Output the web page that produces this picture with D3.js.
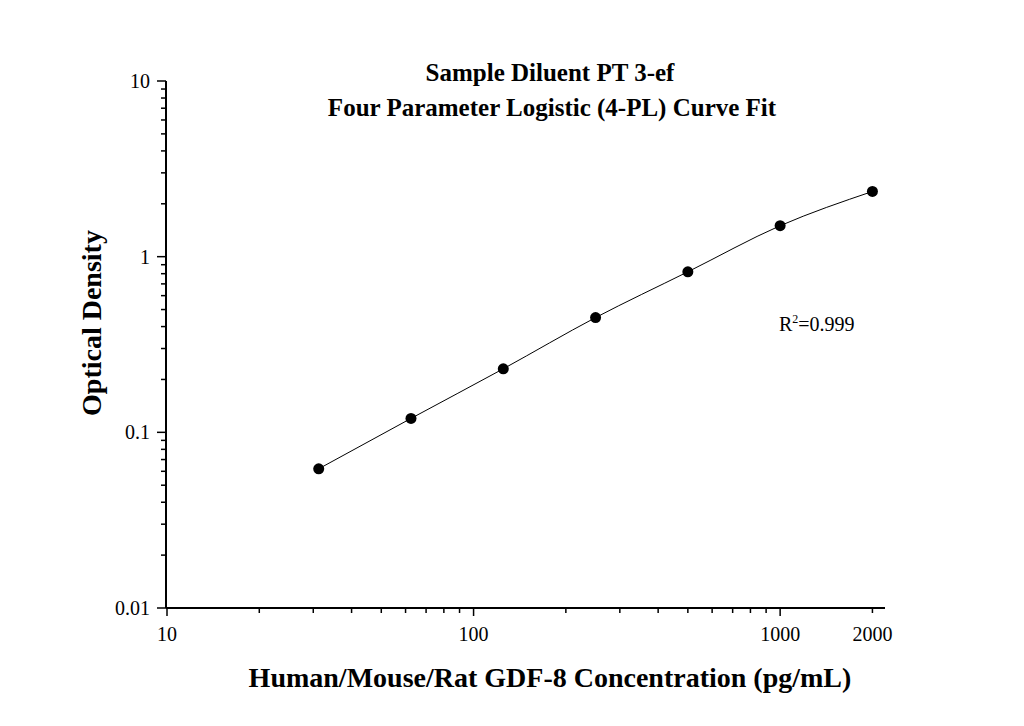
<!DOCTYPE html><html><head><meta charset="utf-8">
<script src="https://cdn.jsdelivr.net/npm/d3@7"></script>
<style>body{margin:0;background:#fff}text{font-family:"Liberation Serif","Times New Roman",serif}</style></head><body>
<svg width="1024" height="726"></svg>
<script>
const concentrations=[31.25,62.5,125,250,500,1000,2000];
const odValues=[0.062,0.12,0.23,0.45,0.82,1.5,2.35];
const xTickLabels=[10,100,1000,2000];
const yTickLabels=[0.01,0.1,1,10];
const svg=d3.select("svg");
const x=d3.scaleLog().domain([10,2198]).range([167,885]);
const y=d3.scaleLog().domain([0.01,10]).range([608,81]);
function minors(lo,hi){const r=[];for(let d=lo;d<hi;d*=10)for(let k=2;k<=9;k++)r.push(d*k);return r;}
const xm=minors(10,1000).concat([10,100,1000,2000]);
svg.append("line").attr("x1",166).attr("x2",885).attr("y1",608).attr("y2",608).attr("stroke","#000").attr("stroke-width",2);
svg.selectAll(".xt").data(xm.filter(v=>x(v)<=885)).join("line").attr("x1",d=>x(d)).attr("x2",d=>x(d)).attr("y1",608).attr("y2",d=>[10,100,1000].includes(d)?616:613).attr("stroke","#000").attr("stroke-width",1.5);
svg.selectAll(".xl").data(xTickLabels).join("text").attr("x",d=>x(d)).attr("y",641).attr("text-anchor","middle").attr("font-size",20).text(d=>d);
svg.append("line").attr("x1",166).attr("x2",166).attr("y1",81).attr("y2",608).attr("stroke","#000").attr("stroke-width",2);
svg.selectAll(".yt").data(minors(0.01,10).concat([0.01,0.1,1,10])).join("line").attr("x1",166).attr("x2",d=>yTickLabels.includes(d)?157:161).attr("y1",d=>y(d)).attr("y2",d=>y(d)).attr("stroke","#000").attr("stroke-width",1.5);
svg.selectAll(".yl").data(yTickLabels).join("text").attr("x",150).attr("y",d=>y(d)+7).attr("text-anchor","end").attr("font-size",20).text(d=>d);
svg.append("path").datum(concentrations).attr("fill","none").attr("stroke","#000").attr("stroke-width",1)
 .attr("d",d3.line().x(d=>x(d)).y((d,i)=>y(odValues[i])).curve(d3.curveMonotoneX));
svg.selectAll(".pt").data(concentrations).join("circle").attr("cx",d=>x(d)).attr("cy",(d,i)=>y(odValues[i])).attr("r",5.5).attr("fill","#000");
svg.append("text").attr("x",550).attr("y",81).attr("text-anchor","middle").attr("font-size",25).attr("font-weight","bold").text("Sample Diluent PT 3-ef");
svg.append("text").attr("x",552).attr("y",116).attr("text-anchor","middle").attr("font-size",25).attr("font-weight","bold").text("Four Parameter Logistic (4-PL) Curve Fit");
svg.append("text").attr("x",550).attr("y",687).attr("text-anchor","middle").attr("font-size",28).attr("font-weight","bold").text("Human/Mouse/Rat GDF-8 Concentration (pg/mL)");
svg.append("text").attr("transform","translate(101,323) rotate(-90)").attr("text-anchor","middle").attr("font-size",28).attr("font-weight","bold").text("Optical Density");
const r2=svg.append("text").attr("x",779).attr("y",331).attr("font-size",20);
r2.append("tspan").text("R");r2.append("tspan").attr("dy",-8).attr("font-size",12).text("2");r2.append("tspan").attr("dy",8).text("=0.999");
</script></body></html>
